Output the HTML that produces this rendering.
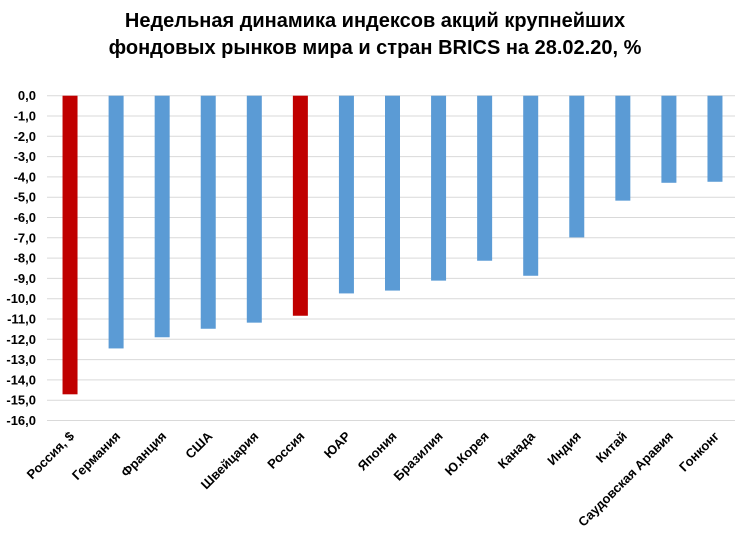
<!DOCTYPE html>
<html><head><meta charset="utf-8"><style>
body{margin:0;background:#fff;width:735px;height:558px;overflow:hidden}
svg{display:block;font-family:"Liberation Sans",sans-serif}
</style></head><body>
<svg id="chart" width="735" height="558">
<text x="375" y="27" text-anchor="middle" font-size="20" font-weight="bold" fill="#000">Недельная динамика индексов акций крупнейших</text>
<text x="375" y="54" text-anchor="middle" font-size="20" font-weight="bold" fill="#000">фондовых рынков мира и стран BRICS на 28.02.20, %</text>
<g id="grid"></g><g id="bars"></g><g id="ylabels"></g><g id="xlabels"></g>
</svg>
<script>
const categories=["Россия, $","Германия","Франция","США","Швейцария","Россия","ЮАР","Япония","Бразилия","Ю.Корея","Канада","Индия","Китай","Саудовская Аравия","Гонконг"];
const values=[-14.71,-12.45,-11.9,-11.48,-11.18,-10.84,-9.74,-9.6,-9.11,-8.13,-8.87,-6.98,-5.17,-4.29,-4.24];
const highlighted=[true,false,false,false,false,true,false,false,false,false,false,false,false,false,false];
const yTicks=[0,-1,-2,-3,-4,-5,-6,-7,-8,-9,-10,-11,-12,-13,-14,-15,-16];
const NS="http://www.w3.org/2000/svg";
const left=47,right=738,y0=95.7,ppu=20.3;
const y=v=>y0-v*ppu;
const bw=(right-left)/categories.length;
const x=i=>left+bw*(i+0.5);
const g=document.getElementById('grid'),b=document.getElementById('bars'),yl=document.getElementById('ylabels'),xl=document.getElementById('xlabels');
function mk(t,a){const e=document.createElementNS(NS,t);for(const k in a)e.setAttribute(k,a[k]);return e;}
yTicks.forEach(t=>{
 const l=mk('line',{x1:left,x2:735,y1:y(t),y2:y(t),stroke:'#d9d9d9','stroke-width':1});
 
 
 g.appendChild(l);
 const tx=mk('text',{x:36,y:y(t)+4.5,'text-anchor':'end','font-size':13,'font-weight':'bold',fill:'#000'});
 tx.textContent=t.toFixed(1).replace('.',',').replace('-0,0','0,0');
 
 
 yl.appendChild(tx);
});
categories.forEach((c,i)=>{
 const v=values[i];
 const r=mk('rect',{x:x(i)-7.5,y:y(0),width:15,height:y(v)-y(0),fill:highlighted[i]?'#c00000':'#5b9bd5'});
 
 
 b.appendChild(r);
 const t=mk('text',{x:x(i)+5,y:437,'text-anchor':'end','font-size':13,'font-weight':'bold',fill:'#000',transform:`rotate(-45 ${x(i)+5} 437)`});
 t.textContent=c;
 
 
 xl.appendChild(t);
});
</script>
</body></html>
